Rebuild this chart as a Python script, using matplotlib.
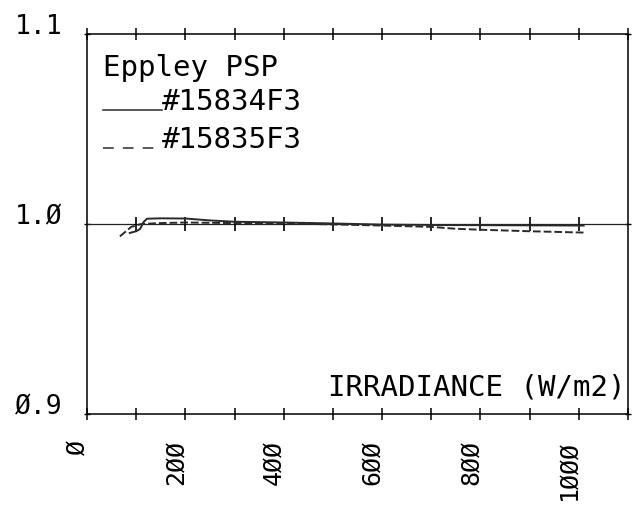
import numpy as np
import matplotlib.pyplot as plt
import matplotlib.transforms as mtransforms

# irradiance (W/m2) vs normalised responsivity for two Eppley PSP units
irr_834 = [87, 100, 108, 115, 122, 150, 200, 250, 300, 400, 500, 600, 700, 800, 900, 1010]
resp_834 = [0.9953, 0.9962, 0.9974, 1.0010, 1.0028, 1.0030, 1.0029, 1.0019, 1.0012, 1.0008,
            1.0003, 0.9997, 0.9995, 0.9994, 0.9993, 0.9992]

irr_835 = [67, 90, 110, 150, 200, 300, 400, 500, 600, 700, 750, 800, 900, 1010]
resp_835 = [0.9935, 0.9985, 1.0000, 1.0005, 1.0008, 1.0005, 1.0003, 0.9998, 0.9992,
            0.9985, 0.9975, 0.9970, 0.9962, 0.9955]

x_ticks = np.arange(0, 1101, 100)
x_labels = ['Ø', '', '2ØØ', '', '4ØØ', '', '6ØØ', '', '8ØØ', '', '1ØØØ', '']
y_ticks = [0.9, 1.0, 1.1]
y_labels = ['Ø.9', '1.Ø', '1.1']

plt.rcParams['font.family'] = ['DejaVu Sans Mono']

fig = plt.figure(figsize=(6.33, 5.08), dpi=100)
ax = fig.add_axes([0.1374, 0.185, 0.8546, 0.748])

ax.set_xlim(0, 1100)
ax.set_ylim(0.9, 1.1)

# unity reference line with tick marks across it
ax.axhline(1.0, color='#222222', lw=0.9)
ax.plot(x_ticks[1:-1], np.ones(len(x_ticks) - 2), ls='none', marker='|',
        color='black', markersize=10, markeredgewidth=1.2)

ax.plot(irr_834, resp_834, color='#2a2a2a', lw=1.4)
ax.plot(irr_835, resp_835, color='#2a2a2a', lw=1.4, ls=(0, (4, 1.5)))

for sp in ax.spines.values():
    sp.set_linewidth(1.1)
    sp.set_color('black')

ax.set_xticks(x_ticks)
ax.set_xticklabels(x_labels, rotation=90, fontsize=18, va='top', ha='center')
ax.set_yticks(y_ticks)
ax.set_yticklabels(y_labels, fontsize=19, va='baseline')
ax.tick_params(axis='x', direction='inout', length=9, width=1.1, top=True, pad=14)
ax.tick_params(axis='y', direction='inout', length=5, width=1.0, right=True, pad=15)

# shift the rotated labels slightly left of their ticks
shift = mtransforms.ScaledTranslation(-10 / 100, 0, fig.dpi_scale_trans)
for lbl in ax.get_xticklabels():
    lbl.set_transform(lbl.get_transform() + shift)

# legend block
ax.text(0.03, 0.889, 'Eppley PSP', transform=ax.transAxes, fontsize=21)
ax.plot([0.03, 0.139], [0.80, 0.80], transform=ax.transAxes, color='#2a2a2a', lw=1.1)
ax.text(0.139, 0.80, '#15834F3', transform=ax.transAxes, fontsize=21)
ax.plot([0.03, 0.139], [0.70, 0.70], transform=ax.transAxes, color='#2a2a2a', lw=1.1,
        ls=(0, (7, 6)))
ax.text(0.139, 0.70, '#15835F3', transform=ax.transAxes, fontsize=21)

ax.text(0.995, 0.05, 'IRRADIANCE (W/m2)', transform=ax.transAxes, fontsize=21, ha='right')

fig.savefig('out.png', dpi=100)
